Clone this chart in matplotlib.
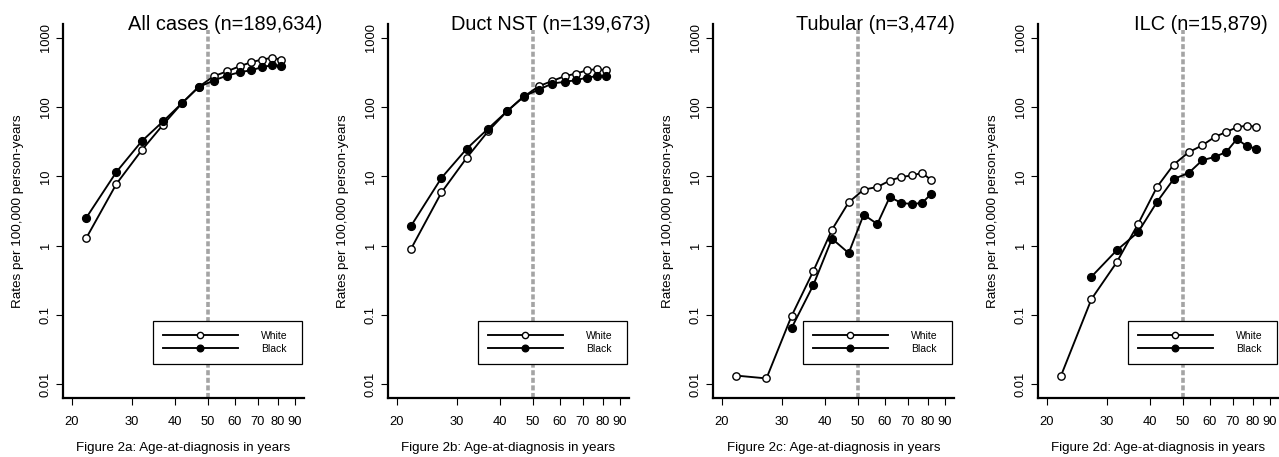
import numpy as np
import matplotlib
matplotlib.use("Agg")
import matplotlib.pyplot as plt
from matplotlib.ticker import NullLocator, FixedLocator, FixedFormatter

plt.rcParams['font.family'] = ['Liberation Sans', 'DejaVu Sans']

# age-at-diagnosis midpoints (5-year groups)
ages = [22, 27, 32, 37, 42, 47, 52, 57, 62, 67, 72, 77, 82]

# rates per 100,000 person-years
all_white = [1.27, 7.8, 23.8, 56, 114, 196, 279, 330, 390, 445, 486, 514, 486]
all_black = [2.5, 11.6, 32.1, 62.5, 114, 195, 242, 286, 319, 341, 377, 403, 394]

duct_white = [0.90, 5.85, 18.5, 45, 87, 141, 200, 239, 280, 305, 341, 353, 341]
duct_black = [1.93, 9.5, 25, 49, 87, 143, 179, 219, 232, 245, 267, 280, 280]

tub_white = [0.0133, 0.0121, 0.097, 0.425, 1.70, 4.22, 6.43, 7.03, 8.68, 9.8, 10.3, 11.2, 8.87]
tub_black = [np.nan, np.nan, 0.065, 0.267, 1.26, 0.78, 2.80, 2.05, 5.04, 4.13, 3.99, 4.13, 5.57]

ilc_white = [0.0133, 0.169, 0.573, 2.07, 7.03, 14.8, 22.3, 28.1, 37.1, 43.8, 51.2, 54.1, 51.8]
ilc_black = [np.nan, 0.356, 0.855, 1.57, 4.27, 9.17, 11.2, 17.1, 19.1, 22.5, 34.7, 27.2, 25.2]

titles = ["All cases (n=189,634)", "Duct NST (n=139,673)", "Tubular (n=3,474)", "ILC (n=15,879)"]
xlabels = ["Figure 2a: Age-at-diagnosis in years", "Figure 2b: Age-at-diagnosis in years",
           "Figure 2c: Age-at-diagnosis in years", "Figure 2d: Age-at-diagnosis in years"]
white_series = [all_white, duct_white, tub_white, ilc_white]
black_series = [all_black, duct_black, tub_black, ilc_black]

xticks = [20, 30, 40, 50, 60, 70, 80, 90]
yticks = [0.01, 0.1, 1, 10, 100, 1000]
ytick_labels = ["0.01", "0.1", "1", "10", "100", "1000"]

W, H = 1279, 457
fig = plt.figure(figsize=(W / 100, H / 100), dpi=100)

# log-range padding like R (4%)
xlo, xhi = 20, 90
xpad = 0.04 * np.log10(xhi / xlo)
ylo, yhi = 0.01, 1000
ypad = 0.04 * np.log10(yhi / ylo)

for i in range(4):
    left = 63 + 325 * i
    ax = fig.add_axes([left / W, (H - 398) / H, 241 / W, 374 / H])
    ax.set_xscale('log')
    ax.set_yscale('log')
    ax.set_xlim(xlo / 10 ** xpad, xhi * 10 ** xpad)
    ax.set_ylim(ylo / 10 ** ypad, yhi * 10 ** ypad)

    ax.axvline(50, ymin=0.0, ymax=0.985, color='#a4a4a4', lw=2.6,
               dashes=(1.4, 0.7), zorder=1)

    ax.plot(ages, white_series[i], color='black', lw=1.35, marker='o', ms=5.3,
            mfc='white', mec='black', mew=1.0, label='White', zorder=3)
    ax.plot(ages, black_series[i], color='black', lw=1.35, marker='o', ms=5.6,
            mfc='black', mec='black', label='Black', zorder=3)

    for s in ['top', 'right']:
        ax.spines[s].set_visible(False)
    ax.spines['left'].set_linewidth(1.6)
    ax.spines['bottom'].set_linewidth(1.6)

    ax.xaxis.set_major_locator(FixedLocator(xticks))
    ax.xaxis.set_major_formatter(FixedFormatter([str(t) for t in xticks]))
    ax.xaxis.set_minor_locator(NullLocator())
    ax.yaxis.set_major_locator(FixedLocator(yticks))
    ax.yaxis.set_major_formatter(FixedFormatter(ytick_labels))
    ax.yaxis.set_minor_locator(NullLocator())
    ax.tick_params(axis='x', length=5, width=0.8, pad=8, labelsize=9.3)
    ax.tick_params(axis='y', length=5, width=0.8, pad=3, labelsize=9.3)
    for lab in ax.get_yticklabels():
        lab.set_rotation(90)
        lab.set_va('center')

    ax.set_ylabel("Rates per 100,000 person-years", fontsize=9.7, va='center')
    ax.yaxis.set_label_coords(-0.187, 0.5)
    ax.set_xlabel(xlabels[i], fontsize=9.6, va='center')
    ax.xaxis.set_label_coords(0.5, -0.134)

    ax.text(0.674, 0.984, titles[i], transform=ax.transAxes, ha='center',
            va='baseline', fontsize=14.4)

    leg = ax.legend(loc='upper left', bbox_to_anchor=(0.373, 0.091, 0.619, 0.115),
                    mode='expand', fontsize=7.5, handlelength=7.2, handletextpad=2.2,
                    borderpad=0.95, labelspacing=0.3, borderaxespad=0,
                    fancybox=False, edgecolor='black', framealpha=1,
                    markerscale=0.85)
    leg.get_frame().set_linewidth(0.9)
    leg.set_zorder(2)

fig.savefig("out.png", dpi=100)
